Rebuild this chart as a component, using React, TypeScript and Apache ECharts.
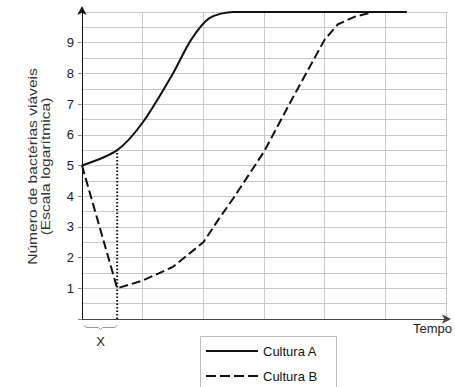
import React, { useEffect, useRef } from "react";
import * as echarts from "echarts";

const seriesNames = ["Cultura A", "Cultura B"];
const culturaA: [number, number][] = [
  [0, 5], [0.58, 5.5], [1.0, 6.4], [1.5, 8.0], [1.8, 9.1], [2.1, 9.8],
  [2.5, 10], [5.35, 10],
];
const culturaB: [number, number][] = [
  [0, 5], [0.58, 1.0], [1.0, 1.25], [1.5, 1.7], [2.0, 2.5], [2.27, 3.3],
  [2.5, 3.95], [3.0, 5.45], [3.5, 7.3], [4.0, 9.1], [4.22, 9.6], [4.5, 9.85],
  [4.8, 10], [5.35, 10],
];
const markX = 0.58;
const markTop = 5.5;
const yTickLabels = [1, 2, 3, 4, 5, 6, 7, 8, 9];
const xMax = 6;
const yMax = 10;
const yAxisTitle = "Número de bactérias viáveis\n(Escala logarítmica)";
const xAxisTitle = "Tempo";
const markLabel = "X";

const FONT = "'Liberation Sans', Arial, sans-serif";

export default function App() {
  const ref = useRef<HTMLDivElement>(null);
  useEffect(() => {
    if (!ref.current) return;
    const chart = echarts.init(ref.current, undefined, { renderer: "svg" });
    chart.setOption({
      animation: false,
      textStyle: { fontFamily: FONT },
      grid: { left: 82, right: 9, top: 12, bottom: 68 },
      xAxis: {
        type: "value",
        min: 0,
        max: xMax,
        interval: 1,
        axisLabel: { show: false },
        axisTick: { show: false },
        axisLine: {
          show: true,
          lineStyle: { color: "#444", width: 1 },
          symbol: ["none", "arrow"],
          symbolSize: [7, 9],
          symbolOffset: [0, 5],
        },
        splitLine: { show: true, lineStyle: { color: "#c8c8c8", width: 1 } },
      },
      yAxis: {
        type: "value",
        min: 0,
        max: yMax,
        interval: 1,
        axisLabel: {
          fontSize: 13,
          color: "#222",
          margin: 8,
          formatter: (v: number) => (yTickLabels.includes(v) ? String(v) : ""),
        },
        axisTick: { show: true, inside: false, length: 4, lineStyle: { color: "#888" } },
        axisLine: {
          show: true,
          lineStyle: { color: "#111", width: 1 },
          symbol: ["none", "arrow"],
          symbolSize: [7, 9],
          symbolOffset: [0, 6],
        },
        splitLine: { show: true, lineStyle: { color: "#c8c8c8", width: 1 } },
        minorTick: { show: false, splitNumber: 2 },
        minorSplitLine: { show: true, lineStyle: { color: "#c8c8c8", width: 1 } },
      },
      series: [
        {
          name: seriesNames[0],
          type: "line",
          data: culturaA,
          showSymbol: false,
          smooth: 0.3,
          lineStyle: { color: "#111", width: 2, type: "solid" },
          itemStyle: { color: "#111" },
        },
        {
          name: seriesNames[1],
          type: "line",
          data: culturaB,
          showSymbol: false,
          lineStyle: { color: "#111", width: 2, type: [9, 4] },
          itemStyle: { color: "#111" },
        },
        {
          name: "marca",
          type: "line",
          data: [[markX, 0], [markX, markTop]],
          showSymbol: false,
          lineStyle: { color: "#111", width: 2, type: [1.5, 2] },
          silent: true,
        },
      ],
    });
    const p0 = chart.convertToPixel({ gridIndex: 0 }, [0, 0]) as number[];
    const p1 = chart.convertToPixel({ gridIndex: 0 }, [markX, 0]) as number[];
    const pTop = chart.convertToPixel({ gridIndex: 0 }, [0, yMax]) as number[];
    const x0 = p0[0] + 2;
    const x1 = p1[0];
    const y0 = p0[1] + 6;
    const mid = (x0 + x1) / 2;
    const lgX = 200;
    const lgY = 336;
    chart.setOption({
      graphic: [
        {
          type: "text",
          x: 39,
          y: (p0[1] + pTop[1]) / 2 + 1,
          rotation: Math.PI / 2,
          scaleX: 1.3,
          style: {
            text: yAxisTitle,
            fontSize: 12,
            lineHeight: 13,
            fill: "#333",
            fontFamily: FONT,
            textAlign: "center",
            textVerticalAlign: "middle",
          },
        },
        {
          type: "polyline",
          shape: {
            points: [
              [x0, y0], [x0 + 2, y0 + 2.5], [mid - 2, y0 + 2.5], [mid, y0 + 4.5],
              [mid + 2, y0 + 2.5], [x1 - 2, y0 + 2.5], [x1, y0],
            ],
          },
          style: { stroke: "#999", lineWidth: 1, fill: "none" },
        },
        {
          type: "text",
          x: mid,
          y: y0 + 10,
          style: { text: markLabel, fontSize: 13, fill: "#222", fontFamily: FONT, textAlign: "center" },
        },
        {
          type: "text",
          right: 3,
          top: p0[1] + 3,
          style: { text: xAxisTitle, fontSize: 13, fill: "#222", fontFamily: FONT },
        },
        {
          type: "rect",
          shape: { x: lgX + 0.5, y: lgY + 0.5, width: 136, height: 70 },
          style: { stroke: "#bbb", lineWidth: 1, fill: "#fff" },
        },
        {
          type: "line",
          shape: { x1: lgX + 6, y1: lgY + 15, x2: lgX + 58, y2: lgY + 15 },
          style: { stroke: "#111", lineWidth: 2 },
        },
        {
          type: "text",
          x: lgX + 63,
          y: lgY + 15,
          style: { text: seriesNames[0], fontSize: 13, fill: "#111", fontFamily: FONT, textVerticalAlign: "middle" },
        },
        {
          type: "line",
          shape: { x1: lgX + 6, y1: lgY + 40, x2: lgX + 58, y2: lgY + 40 },
          style: { stroke: "#111", lineWidth: 2, lineDash: [10, 4] },
        },
        {
          type: "text",
          x: lgX + 63,
          y: lgY + 40,
          style: { text: seriesNames[1], fontSize: 13, fill: "#111", fontFamily: FONT, textVerticalAlign: "middle" },
        },
      ],
    });
    return () => chart.dispose();
  }, []);
  return <div ref={ref} style={{ width: 455, height: 387, position: "absolute", left: 0, top: 0 }} />;
}
